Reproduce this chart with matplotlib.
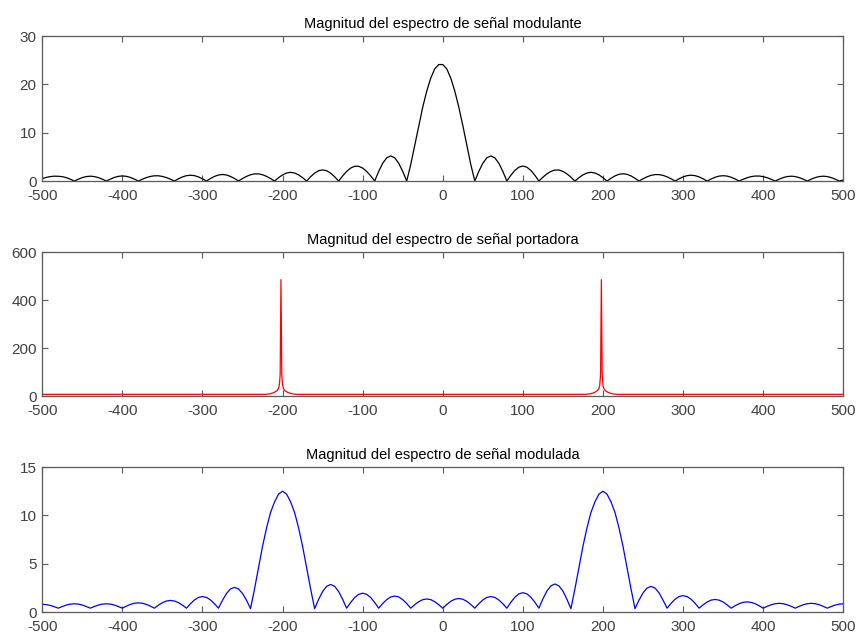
import numpy as np
import matplotlib
matplotlib.use("Agg")
import matplotlib.pyplot as plt

# frequency bins (Hz), 5 Hz apart
freq = list(range(-500, 505, 5))

# |M(f)| - modulating signal spectrum
mod_mag = [
    0.5, 0.75, 0.92, 1.0, 0.98, 0.9, 0.7, 0.38, 0.0,
    0.38, 0.71, 0.92, 1.0, 0.92, 0.71, 0.38, 0.0,
    0.40, 0.74, 0.97, 1.05, 0.97, 0.74, 0.40, 0.0,
    0.38, 0.71, 0.95, 1.08, 1.08, 0.95, 0.71, 0.38, 0.0,
    0.46, 0.85, 1.11, 1.2, 1.11, 0.85, 0.46, 0.0,
    0.52, 0.95, 1.25, 1.35, 1.25, 0.95, 0.52, 0.0,
    0.51, 0.96, 1.3, 1.48, 1.48, 1.3, 0.96, 0.51, 0.0,
    0.69, 1.27, 1.66, 1.8, 1.66, 1.27, 0.69, 0.0,
    0.88, 1.63, 2.13, 2.3, 2.13, 1.63, 0.88, 0.0,
    1.06, 1.99, 2.68, 3.05, 3.05, 2.68, 1.99, 1.06, 0.0,
    1.99, 3.68, 4.8, 5.2, 4.8, 3.68, 1.99, 0.0,
    3.4, 7.4, 11.5, 15.3, 18.6, 21.3, 23.2, 24.1, 24.1, 23.2, 21.3, 18.6, 15.3, 11.5, 7.4, 3.4, 0.0,
    1.99, 3.68, 4.8, 5.2, 4.8, 3.68, 1.99, 0.0,
    1.19, 2.19, 2.86, 3.1, 2.86, 2.19, 1.19, 0.0,
    0.79, 1.48, 1.99, 2.27, 2.27, 1.99, 1.48, 0.79, 0.0,
    0.69, 1.27, 1.66, 1.8, 1.66, 1.27, 0.69, 0.0,
    0.57, 1.06, 1.39, 1.5, 1.39, 1.06, 0.57, 0.0,
    0.46, 0.87, 1.17, 1.33, 1.33, 1.17, 0.87, 0.46, 0.0,
    0.46, 0.85, 1.11, 1.2, 1.11, 0.85, 0.46, 0.0,
    0.42, 0.78, 1.02, 1.1, 1.02, 0.78, 0.42, 0.0,
    0.36, 0.68, 0.91, 1.03, 1.03, 0.91, 0.68, 0.36, 0.0,
    0.38, 0.71, 0.92, 1.0, 0.92, 0.71, 0.38, 0.0,
    0.38, 0.71, 0.92, 1.0, 0.92, 0.71, 0.38, 0.0,
    0.2,
]

# |C(f)| - carrier spectrum (narrow lines near +-200 Hz)
car_freq = [-500, -222, -216, -211, -207, -205, -204, -203, -202, -201, -200, -199, -197, -193, -188, -182,
            178, 184, 189, 193, 195, 196, 197, 198, 199, 200, 201, 203, 207, 212, 218, 500]
car_mag = [7, 7, 9, 14, 22, 32, 45, 90, 485, 90, 45, 32, 22, 14, 9, 7,
           7, 9, 14, 22, 32, 45, 90, 485, 90, 45, 32, 22, 14, 9, 7, 7]

# |S(f)| - modulated signal spectrum
am_mag = [
    0.8, 0.77, 0.68, 0.55, 0.4,
    0.57, 0.72, 0.82, 0.85, 0.82, 0.72, 0.57, 0.4,
    0.57, 0.72, 0.82, 0.85, 0.82, 0.72, 0.57, 0.4,
    0.61, 0.79, 0.91, 0.95, 0.91, 0.79, 0.61, 0.4,
    0.71, 0.97, 1.14, 1.2, 1.14, 0.97, 0.71, 0.4,
    0.86, 1.25, 1.51, 1.6, 1.51, 1.25, 0.86, 0.4,
    1.22, 1.92, 2.39, 2.55, 2.39, 1.92, 1.22, 0.35,
    2.4, 4.6, 6.8, 8.7, 10.3, 11.4, 12.2, 12.5, 12.2, 11.4, 10.3, 8.7, 6.8, 4.6, 2.4, 0.35,
    1.31, 2.12, 2.66, 2.85, 2.66, 2.12, 1.31, 0.4,
    0.99, 1.5, 1.83, 1.95, 1.83, 1.5, 0.99, 0.4,
    0.88, 1.28, 1.56, 1.65, 1.56, 1.28, 0.88, 0.4,
    0.76, 1.07, 1.28, 1.35, 1.28, 1.07, 0.76, 0.4,
    0.78, 1.11, 1.32, 1.4, 1.32, 1.11, 0.78, 0.4,
    0.86, 1.25, 1.51, 1.6, 1.51, 1.25, 0.86, 0.4,
    1.01, 1.53, 1.88, 2.0, 1.88, 1.53, 1.01, 0.4,
    1.36, 2.17, 2.71, 2.9, 2.71, 2.17, 1.32, 0.35,
    2.4, 4.6, 6.8, 8.7, 10.3, 11.4, 12.2, 12.5, 12.2, 11.4, 10.3, 8.7, 6.8, 4.6, 2.4, 0.35,
    1.23, 1.98, 2.48, 2.65, 2.48, 1.98, 1.23, 0.4,
    0.9, 1.32, 1.6, 1.7, 1.6, 1.32, 0.9, 0.4,
    0.74, 1.04, 1.23, 1.3, 1.23, 1.04, 0.74, 0.4,
    0.65, 0.86, 1.0, 1.05, 1.0, 0.86, 0.65, 0.4,
    0.59, 0.75, 0.86, 0.9, 0.86, 0.75, 0.59, 0.4,
    0.59, 0.75, 0.86, 0.9, 0.86, 0.75, 0.59, 0.4,
    0.57, 0.72, 0.82, 0.85,
]
assert len(mod_mag) == len(freq) and len(am_mag) == len(freq)

titles = ["Magnitud del espectro de señal modulante",
          "Magnitud del espectro de señal portadora",
          "Magnitud del espectro de señal modulada"]
xticks = [-500, -400, -300, -200, -100, 0, 100, 200, 300, 400, 500]
yticks = [[0, 10, 20, 30], [0, 200, 400, 600], [0, 5, 10, 15]]

plt.rcParams["font.family"] = ["Liberation Sans", "DejaVu Sans"]
plt.rcParams["axes.unicode_minus"] = False

fig = plt.figure(figsize=(8.61, 6.41), dpi=100)
boxes = [[0.0491, 0.7176, 0.9303, 0.2262],
         [0.0491, 0.3822, 0.9303, 0.2246],
         [0.0491, 0.0452, 0.9303, 0.2262]]
series = [(freq, mod_mag, "k"), (car_freq, car_mag, "r"), (freq, am_mag, "b")]

for box, (x, y, c), title, yt in zip(boxes, series, titles, yticks):
    ax = fig.add_axes(box)
    ax.plot(x, y, color=c, lw=0.9)
    ax.set_xlim(-500, 500)
    ax.set_ylim(yt[0], yt[-1])
    ax.set_xticks(xticks)
    ax.set_yticks(yt)
    ax.set_title(title, fontsize=10.5, pad=6)
    ax.tick_params(direction="in", length=4, width=0.8, color="#5a5a5a",
                   labelcolor="#404040", labelsize=11, top=True, right=True)
    ax.tick_params(axis="x", pad=6)
    ax.tick_params(axis="y", pad=4)
    for s in ax.spines.values():
        s.set_color("#5a5a5a")
        s.set_linewidth(0.9)

fig.savefig("out.png", dpi=100)
